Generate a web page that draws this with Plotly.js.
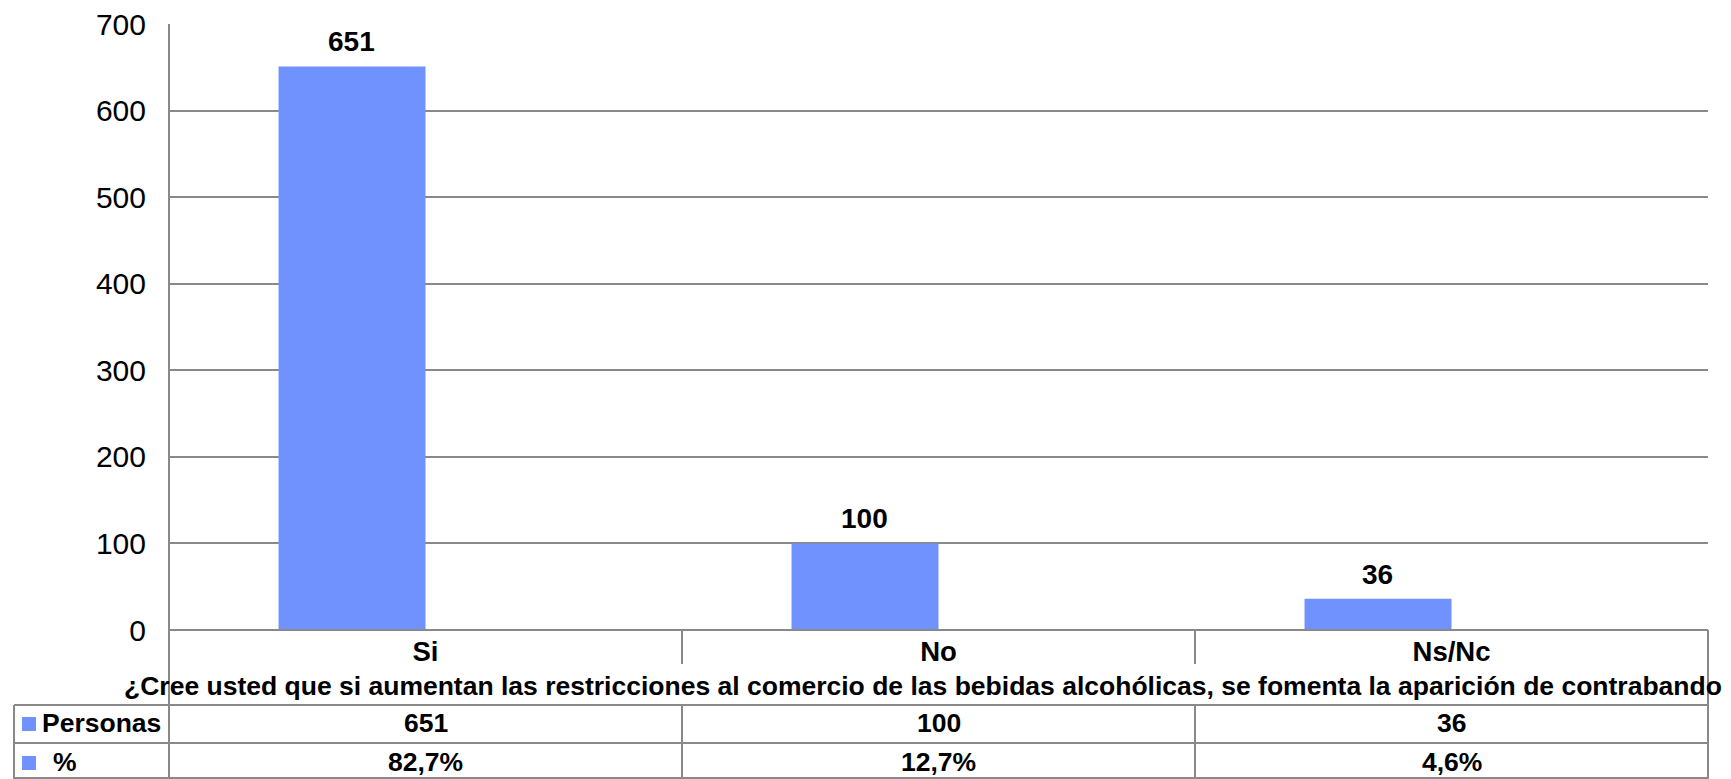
<!DOCTYPE html>
<html>
<head>
<meta charset="utf-8">
<script src="https://cdn.plot.ly/plotly-3.0.1.min.js"></script>
<style>html,body{margin:0;padding:0;background:#fff;}#chart{width:1731px;height:779px;}</style>
</head>
<body>
<div id="chart"></div>
<script>
const categories = ["Si", "No", "Ns/Nc"];
const personas = [651, 100, 36];
const porcentaje = [0.827, 0.127, 0.046];
const porcentajeLabels = ["82,7%", "12,7%", "4,6%"];
const seriesNames = ["Personas", "%"];
const axisTitle = "¿Cree usted que si aumentan las restricciones al comercio de las bebidas alcohólicas, se fomenta la aparición de contrabando";
const yTicks = [0, 100, 200, 300, 400, 500, 600, 700];

const W = 1731, H = 779;
const L = 169, R = 1708, T = 24, B = 630;
const px = x => (x - L) / (R - L);
const py = y => (B - y) / (B - T);

const barColor = "#7092FF";
const lineColor = "#898989";
const FONT = "Liberation Sans, Arial, sans-serif";

const traces = [
  {type: "bar", name: seriesNames[0], x: categories, y: personas, marker: {color: barColor}, hoverinfo: "none"},
  {type: "bar", name: seriesNames[1], x: categories, y: porcentaje, marker: {color: barColor}, hoverinfo: "none"}
];

const annotations = [];
// data labels above Personas bars
categories.forEach((c, i) => {
  annotations.push({x: c, y: personas[i], xref: "x", yref: "y", text: String(personas[i]),
    showarrow: false, yanchor: "bottom", xshift: -74, yshift: 7,
    font: {family: FONT, size: 28, color: "#000", weight: "bold"}});
});
// axis title
annotations.push({x: px(923), y: py(686), xref: "paper", yref: "paper", text: axisTitle, showarrow: false,
  xanchor: "center", yanchor: "middle", font: {family: FONT, size: 26.5, color: "#000", weight: "bold"}});
// table values
categories.forEach((c, i) => {
  annotations.push({x: c, y: py(723), xref: "x", yref: "paper", text: String(personas[i]), showarrow: false,
    yanchor: "middle", font: {family: FONT, size: 26.5, color: "#000", weight: "bold"}});
  annotations.push({x: c, y: py(762), xref: "x", yref: "paper", text: porcentajeLabels[i], showarrow: false,
    yanchor: "middle", font: {family: FONT, size: 26.5, color: "#000", weight: "bold"}});
});
// row headers
annotations.push({x: px(40), y: py(723), xref: "paper", yref: "paper", text: seriesNames[0], showarrow: false,
  xanchor: "left", yanchor: "middle", font: {family: FONT, size: 26.5, color: "#000", weight: "bold"}});
annotations.push({x: px(51), y: py(762), xref: "paper", yref: "paper", text: seriesNames[1], showarrow: false,
  xanchor: "left", yanchor: "middle", font: {family: FONT, size: 26.5, color: "#000", weight: "bold"}});

const ln = (x0, y0, x1, y1) => ({type: "line", xref: "paper", yref: "paper", x0: px(x0), y0: py(y0), x1: px(x1), y1: py(y1),
  line: {color: lineColor, width: 2}, layer: "above"});
const shapes = [
  ln(L, T, L, H),            // left border (axis + table column)
  ln(L, B, R, B),            // x axis line
  ln(R, B, R, H),            // right border
  ln(682, B, 682, 664), ln(1195, B, 1195, 664),
  ln(682, 705, 682, H), ln(1195, 705, 1195, H),
  ln(14, 705, R, 705), ln(14, 743, R, 743), ln(14, 778, R, 778),
  ln(14, 705, 14, H),
  {type: "rect", xref: "paper", yref: "paper", x0: px(22), x1: px(36), y0: py(717), y1: py(731), fillcolor: barColor, line: {width: 0}},
  {type: "rect", xref: "paper", yref: "paper", x0: px(22), x1: px(36), y0: py(756), y1: py(770), fillcolor: barColor, line: {width: 0}}
];

const layout = {
  width: W, height: H,
  margin: {l: L, r: W - R, t: T, b: H - B, pad: 0},
  paper_bgcolor: "#fff", plot_bgcolor: "#fff",
  showlegend: false,
  barmode: "group", bargap: 0.427, bargroupgap: 0,
  xaxis: {type: "category", showgrid: false, showline: false, zeroline: false, ticks: "",
    tickfont: {family: FONT, size: 27.5, color: "#000", weight: "bold"}, ticklabelstandoff: 2},
  yaxis: {range: [0, 700], tickvals: yTicks, showgrid: true, gridcolor: lineColor, gridwidth: 2,
    zeroline: false, showline: false, ticks: "", ticklabelstandoff: 22,
    tickfont: {family: FONT, size: 30, color: "#000"}},
  annotations: annotations,
  shapes: shapes
};

Plotly.newPlot("chart", traces, layout, {displayModeBar: false, staticPlot: true});
</script>
</body>
</html>
